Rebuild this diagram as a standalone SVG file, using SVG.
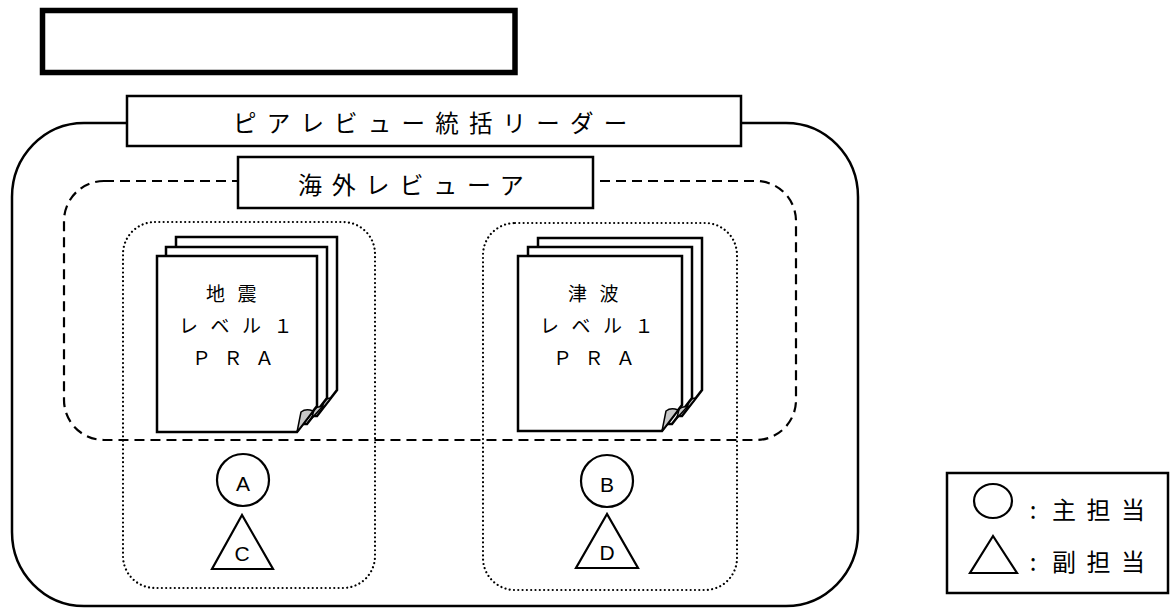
<svg xmlns="http://www.w3.org/2000/svg" width="1170" height="608" viewBox="0 0 1170 608">
<style>
.jp{font-family:"Noto Sans CJK JP","Noto Sans",sans-serif;fill:#000}
.lat{font-family:"Liberation Sans",Arial,sans-serif;fill:#000;font-size:21px;text-anchor:middle}
.box{fill:#fff;stroke:#000;stroke-width:2.5}
.sheet{fill:#fff;stroke:#000;stroke-width:2.5;stroke-linejoin:miter}
.curl{fill:#c8c8c8;stroke:#000;stroke-width:1.5;stroke-linejoin:round}
.dot{fill:none;stroke:#000;stroke-width:2.2;stroke-dasharray:0.01 4.3;stroke-linecap:round}
.shape{fill:#fff;stroke:#000;stroke-width:2.2}
.doc{font-size:19px;letter-spacing:12.5px}
</style>
<g id="title-box">
<rect x="42.5" y="10.5" width="472.5" height="62" fill="#fff" stroke="#000" stroke-width="5.5"/>
</g>
<g id="outer-group">
<rect x="12" y="123" width="846" height="483" rx="72" ry="74" fill="none" stroke="#000" stroke-width="2.5"/>
</g>
<g id="overseas-group">
<rect x="64" y="181" width="732" height="259" rx="40" ry="40" fill="none" stroke="#000" stroke-width="2.2" stroke-dasharray="10 6"/>
</g>
<g id="leader">
<rect class="box" x="127" y="96" width="614" height="50"/>
<text class="jp" x="233" y="132" font-size="23.5" letter-spacing="10.2">ピアレビュー統括リーダー</text>
</g>
<g id="overseas-reviewer">
<rect class="box" x="238" y="157" width="355" height="51"/>
<text class="jp" x="298" y="194" font-size="24" letter-spacing="9.8">海外レビューア</text>
</g>
<g id="team-left">
<rect class="dot" x="123" y="222" width="252" height="366" rx="32" ry="32"/>
</g>
<g id="team-right">
<rect class="dot" x="483" y="223" width="254" height="367" rx="32" ry="32"/>
</g>
<g id="doc-seismic">
<path class="sheet" d="M176,237 H337 V390 L317,416 H176 Z"/>
<path class="curl" d="M322,409 L324,400 Q328,398 331,398 Z"/>
<path class="sheet" d="M166,247 H327 V398 L307,424 H166 Z"/>
<path class="curl" d="M312,418 L314,409 Q318,406 322,407 Z"/>
<path class="sheet" d="M157,256 H317 V406 L297,432 H157 Z"/>
<path class="curl" d="M297,432 L301,412 Q306,408 313,411 Z"/>
<text class="jp doc" x="206" y="301">地震</text>
<text class="jp doc" x="179" y="333">レベル１</text>
<text class="jp doc" x="192" y="365">ＰＲＡ</text>
</g>
<g id="doc-tsunami">
<path class="sheet" d="M538,238 H702 V390 L682,416 H538 Z"/>
<path class="curl" d="M687,409 L689,400 Q693,398 696,398 Z"/>
<path class="sheet" d="M528,247 H692 V398 L672,424 H528 Z"/>
<path class="curl" d="M677,418 L679,409 Q683,406 687,407 Z"/>
<path class="sheet" d="M518,256 H682 V405 L662,431 H518 Z"/>
<path class="curl" d="M662,431 L666,411 Q671,407 678,410 Z"/>
<text class="jp doc" x="568" y="301">津波</text>
<text class="jp doc" x="540" y="333">レベル１</text>
<text class="jp doc" x="553" y="365">ＰＲＡ</text>
</g>
<g id="main-A">
<circle class="shape" cx="243" cy="480" r="26"/>
<text class="lat" x="243" y="491">A</text>
</g>
<g id="sub-C">
<polygon class="shape" points="242,515 212,569 273,569"/>
<text class="lat" x="242" y="561">C</text>
</g>
<g id="main-B">
<circle class="shape" cx="607" cy="481" r="26"/>
<text class="lat" x="607" y="492">B</text>
</g>
<g id="sub-D">
<polygon class="shape" points="607,514 576,568 638,568"/>
<text class="lat" x="607" y="560">D</text>
</g>
<g id="legend">
<rect x="947" y="473" width="221" height="120" fill="#fff" stroke="#000" stroke-width="2.5"/>
<ellipse class="shape" cx="993" cy="501" rx="19" ry="17"/>
<polygon class="shape" points="993,536 970,573 1017,573"/>
<text class="jp" x="1033" y="519" font-size="24" text-anchor="middle">:</text>
<text class="jp" x="1052" y="519" font-size="24" letter-spacing="10.5">主担当</text>
<text class="jp" x="1033" y="571" font-size="24" text-anchor="middle">:</text>
<text class="jp" x="1052" y="571" font-size="24" letter-spacing="10.5">副担当</text>
</g>
<g id="connectors"></g>
</svg>
